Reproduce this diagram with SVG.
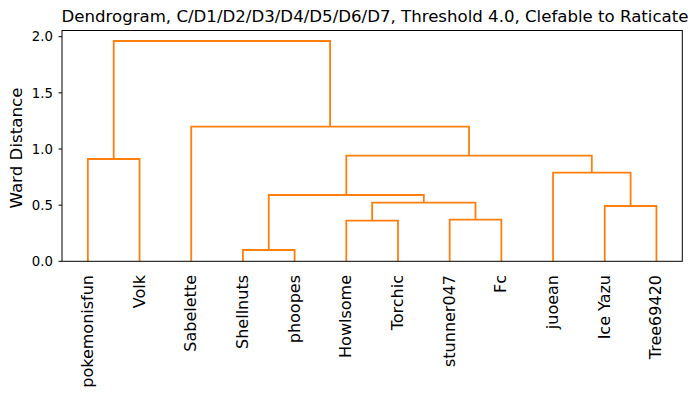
<svg xmlns="http://www.w3.org/2000/svg" width="697" height="398" viewBox="0 0 697 398">
<style>
text{font-family:"DejaVu Sans","Liberation Sans",sans-serif;fill:#000}
.lnk{fill:none;stroke:#ff7f0e;stroke-width:1.8;stroke-linejoin:miter;stroke-linecap:butt}
.xl{font-size:16px;text-anchor:end}
.yt{font-size:13.3px;text-anchor:end}
.tk{stroke:#000;stroke-width:1}
</style>
<rect width="697" height="398" fill="#fff"/>
<text id="title" x="375" y="22" font-size="16.6" text-anchor="middle">Dendrogram, C/D1/D2/D3/D4/D5/D6/D7, Threshold 4.0, Clefable to Raticate</text>
<g id="connectors">
<path class="lnk" d="M87.85,261.3V159H139.54V261.3"/>
<path class="lnk" d="M242.92,261.3V250H294.61V261.3"/>
<path class="lnk" d="M346.3,261.3V220.7H397.99V261.3"/>
<path class="lnk" d="M449.68,261.3V219.7H501.37V261.3"/>
<path class="lnk" d="M372.15,220.7V202.7H475.5V219.7"/>
<path class="lnk" d="M268.77,250V195H423.8V202.7"/>
<path class="lnk" d="M604.75,261.3V206H656.44V261.3"/>
<path class="lnk" d="M553.06,261.3V172.7H630.6V206"/>
<path class="lnk" d="M346.3,195V155.7H591.8V172.7"/>
<path class="lnk" d="M191.23,261.3V126.7H469.05V155.7"/>
<path class="lnk" d="M113.7,159V41H330.1V126.7"/>
</g>
<g id="axes">
<rect x="62" y="30.5" width="620.3" height="230.8" fill="none" stroke="#000" stroke-width="1"/>
<path class="tk" d="M58.5,261.3H62M58.5,205.15H62M58.5,149H62M58.5,92.85H62M58.5,36.7H62"/>
<text class="yt" x="53" y="266">0.0</text>
<text class="yt" x="53" y="209.9">0.5</text>
<text class="yt" x="53" y="153.7">1.0</text>
<text class="yt" x="53" y="97.6">1.5</text>
<text class="yt" x="53" y="41.4">2.0</text>
<text id="ylabel" x="22" y="148" font-size="16.7" text-anchor="middle" transform="rotate(-90 22 148)">Ward Distance</text>
</g>
<g id="leaf-pokemonisfun"><text class="xl" transform="translate(92.85,275) rotate(-90)">pokemonisfun</text></g>
<g id="leaf-volk"><text class="xl" transform="translate(144.54,275) rotate(-90)">Volk</text></g>
<g id="leaf-sabelette"><text class="xl" transform="translate(196.23,275) rotate(-90)">Sabelette</text></g>
<g id="leaf-shellnuts"><text class="xl" transform="translate(247.92,275) rotate(-90)">Shellnuts</text></g>
<g id="leaf-phoopes"><text class="xl" transform="translate(299.61,275) rotate(-90)">phoopes</text></g>
<g id="leaf-howlsome"><text class="xl" transform="translate(351.3,275) rotate(-90)">Howlsome</text></g>
<g id="leaf-torchic"><text class="xl" transform="translate(402.99,275) rotate(-90)">Torchic</text></g>
<g id="leaf-stunner047"><text class="xl" transform="translate(454.68,275) rotate(-90)">stunner047</text></g>
<g id="leaf-fc"><text class="xl" transform="translate(506.37,275) rotate(-90)">Fc</text></g>
<g id="leaf-juoean"><text class="xl" transform="translate(558.06,275) rotate(-90)">juoean</text></g>
<g id="leaf-iceyazu"><text class="xl" transform="translate(609.75,275) rotate(-90)">Ice Yazu</text></g>
<g id="leaf-tree69420"><text class="xl" transform="translate(661.44,275) rotate(-90)">Tree69420</text></g>
</svg>
